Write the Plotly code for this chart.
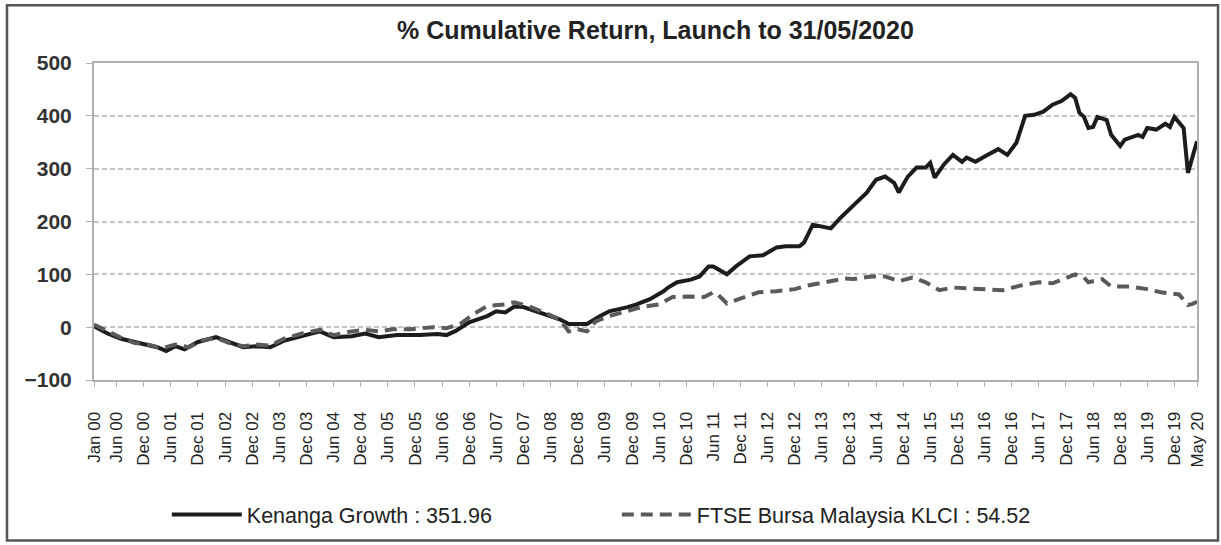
import plotly.graph_objects as go

# ---------------- data ----------------
kenanga_dates = [
    "2000-01", "2000-04", "2000-07", "2000-10", "2001-01", "2001-03", "2001-05", "2001-07",
    "2001-09", "2001-12", "2002-04", "2002-07", "2002-10", "2003-01", "2003-04", "2003-07",
    "2003-11", "2004-03", "2004-06", "2004-10", "2005-01", "2005-04", "2005-08", "2006-01",
    "2006-05", "2006-07", "2006-09", "2006-12", "2007-04", "2007-06", "2007-08", "2007-10",
    "2007-12", "2008-03", "2008-05", "2008-08", "2008-10", "2008-12", "2009-02", "2009-05",
    "2009-07", "2009-11", "2010-01", "2010-04", "2010-06", "2010-07", "2010-08", "2010-10",
    "2011-01", "2011-03", "2011-05", "2011-06", "2011-09", "2011-11", "2012-02", "2012-05",
    "2012-08", "2012-10", "2013-01", "2013-02", "2013-04", "2013-06", "2013-08", "2013-10",
    "2013-12", "2014-02", "2014-04", "2014-06", "2014-08", "2014-10", "2014-11", "2015-01",
    "2015-03", "2015-05", "2015-06", "2015-07", "2015-09", "2015-11", "2016-01", "2016-02",
    "2016-04", "2016-06", "2016-09", "2016-11", "2017-01", "2017-03", "2017-05", "2017-07",
    "2017-09", "2017-11", "2018-01", "2018-02", "2018-03", "2018-04", "2018-05", "2018-06",
    "2018-07", "2018-09", "2018-10", "2018-12", "2019-01", "2019-04", "2019-05", "2019-06",
    "2019-08", "2019-10", "2019-11", "2019-12", "2020-01", "2020-02", "2020-03", "2020-04",
    "2020-05",
]
kenanga_values = [
    2, -12, -22, -28, -35, -38, -45, -36,
    -42, -28, -19, -28, -38, -36, -38, -26,
    -17, -8, -19, -17, -12, -19, -15, -15,
    -13, -15, -7, 9, 21, 30, 28, 39,
    38, 30, 24, 15, 6, 6, 6, 21,
    30, 38, 43, 53, 62, 68, 75, 85,
    90, 96, 115, 115, 100, 115, 134, 136,
    151, 153, 153, 160, 194, 191, 187, 206,
    223, 241, 255, 279, 285, 273, 255, 285,
    302, 302, 311, 283, 308, 326, 313, 321,
    313, 323, 337, 326, 349, 400, 402, 408,
    421, 428, 441, 434, 406, 398, 377, 379,
    398, 392, 364, 343, 355, 364, 360, 377,
    374, 385, 379, 398, 387, 377, 292, 321,
    351.96,
]

klci_dates = [
    "2000-01", "2000-04", "2000-07", "2000-10", "2001-01", "2001-04", "2001-07", "2001-10",
    "2002-01", "2002-04", "2002-07", "2002-10", "2003-01", "2003-04", "2003-07", "2003-11",
    "2004-03", "2004-06", "2004-10", "2005-01", "2005-04", "2005-07", "2005-11", "2006-04",
    "2006-07", "2006-10", "2007-01", "2007-04", "2007-08", "2007-10", "2008-01", "2008-04",
    "2008-08", "2008-10", "2008-12", "2009-02", "2009-04", "2009-07", "2009-10", "2010-02",
    "2010-06", "2010-09", "2011-01", "2011-04", "2011-06", "2011-07", "2011-09", "2012-01",
    "2012-04", "2012-08", "2012-12", "2013-03", "2013-07", "2013-11", "2014-01", "2014-05",
    "2014-08", "2014-11", "2015-02", "2015-05", "2015-08", "2015-11", "2016-03", "2016-07",
    "2016-10", "2017-02", "2017-06", "2017-09", "2017-12", "2018-02", "2018-04", "2018-05",
    "2018-08", "2018-10", "2019-02", "2019-06", "2019-09", "2020-01", "2020-03", "2020-04",
    "2020-05",
]
klci_values = [
    5, -8, -20, -30, -33, -40, -33, -38,
    -25, -20, -30, -36, -33, -35, -22, -12,
    -5, -15, -8, -5, -8, -4, -4, 0,
    -2, 6, 25, 40, 43, 47, 40, 30,
    15, -8, -4, -8, 11, 21, 28, 38,
    43, 57, 58, 57, 66, 62, 45, 58,
    66, 68, 72, 79, 85, 92, 91, 96,
    96, 87, 94, 85, 70, 75, 73, 72,
    70, 79, 85, 83, 94, 100, 94, 85,
    91, 77, 77, 72, 66, 62, 42, 44,
    48,
]

tick_labels = [
    "Jan 00", "Jun 00", "Dec 00", "Jun 01", "Dec 01", "Jun 02", "Dec 02", "Jun 03", "Dec 03",
    "Jun 04", "Dec 04", "Jun 05", "Dec 05", "Jun 06", "Dec 06", "Jun 07", "Dec 07",
    "Jun 08", "Dec 08", "Jun 09", "Dec 09", "Jun 10", "Dec 10", "Jun 11", "Dec 11",
    "Jun 12", "Dec 12", "Jun 13", "Dec 13", "Jun 14", "Dec 14", "Jun 15", "Dec 15",
    "Jun 16", "Dec 16", "Jun 17", "Dec 17", "Jun 18", "Dec 18", "Jun 19", "Dec 19",
    "May 20",
]
y_ticks = [-100, 0, 100, 200, 300, 400, 500]

title_text = "% Cumulative Return, Launch to 31/05/2020"
kenanga_name = "Kenanga Growth : 351.96"
klci_name = "FTSE Bursa Malaysia KLCI : 54.52"

# ---------------- helpers ----------------
MONTHS = {"Jan": 1, "Feb": 2, "Mar": 3, "Apr": 4, "May": 5, "Jun": 6,
          "Jul": 7, "Aug": 8, "Sep": 9, "Oct": 10, "Nov": 11, "Dec": 12}
tick_vals = [f"20{lab[4:6]}-{MONTHS[lab[:3]]:02d}-01" for lab in tick_labels]

FONT = "Liberation Sans, Arial, sans-serif"

fig = go.Figure()
fig.add_trace(go.Scatter(
    x=[d + "-01" for d in kenanga_dates], y=kenanga_values, mode="lines",
    name=kenanga_name, line=dict(color="#1c1c1c", width=4),
))
fig.add_trace(go.Scatter(
    x=[d + "-01" for d in klci_dates], y=klci_values, mode="lines",
    name=klci_name, line=dict(color="#5a5a5a", width=4, dash="12px,7px"),
))

fig.update_layout(
    width=1221, height=545,
    margin=dict(l=94, r=24, t=63, b=164),
    paper_bgcolor="white", plot_bgcolor="white",
    font=dict(family=FONT, color="#222"),
    title=dict(text=title_text, x=0.509, xref="paper", xanchor="center",
               y=1 - 30 / 545, yref="container", yanchor="middle",
               font=dict(size=25, weight="bold", color="#222")),
    showlegend=True,
    legend=dict(orientation="h", x=0.066, xanchor="left", y=-0.42, yanchor="middle",
                font=dict(size=21.5, color="#222"), itemwidth=70,
                entrywidth=365, entrywidthmode="pixels",
                bgcolor="rgba(0,0,0,0)", tracegroupgap=0),
    shapes=[dict(type="rect", xref="paper", yref="paper",
                 x0=(7 - 94) / 1103, x1=(1218 - 94) / 1103,
                 y0=(381 - 542) / 318, y1=(381 - 5) / 318,
                 line=dict(color="#555", width=2.5), fillcolor="rgba(0,0,0,0)",
                 layer="below")],
)

fig.update_xaxes(
    type="date", range=["2000-01-01", "2020-05-01"],
    tickmode="array", tickvals=tick_vals, ticktext=tick_labels, tickangle=-90,
    tickfont=dict(size=17, color="#222"),
    ticks="outside", ticklen=5, tickcolor="#b0b0b0",
    showline=True, linecolor="#b0b0b0", linewidth=2, mirror=True,
    showgrid=False, zeroline=False, ticklabelstandoff=18,
)
fig.update_yaxes(
    range=[-100, 500], tickmode="array", tickvals=y_ticks,
    tickfont=dict(size=21, weight="bold", color="#333"),
    ticks="outside", ticklen=6, tickcolor="#b0b0b0",
    showline=True, linecolor="#b0b0b0", linewidth=2, mirror=True,
    showgrid=True, gridcolor="#c4c4c4", gridwidth=1.5, griddash="5px,3px",
    zeroline=False, ticklabelstandoff=10,
)

fig.write_html("out.html", config={"displayModeBar": False},
               post_script="document.body.style.margin='0';")
